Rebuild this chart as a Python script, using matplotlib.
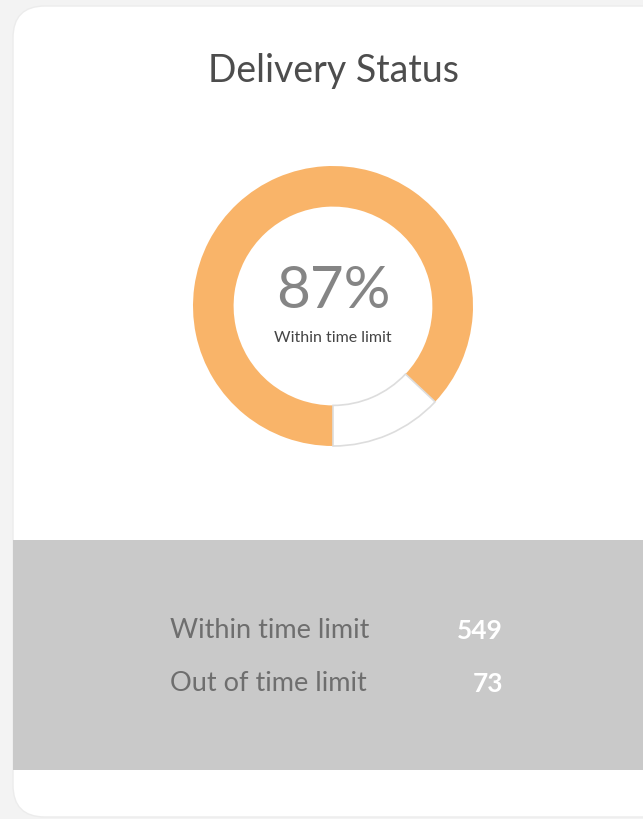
import matplotlib.pyplot as plt
from matplotlib.patches import FancyBboxPatch, Rectangle

plt.rcParams['font.family'] = ['Lato', 'DejaVu Sans']

title = "Delivery Status"
categories = ["Within time limit", "Out of time limit"]
counts = [549, 73]
shares = [87, 13]  # percent shown on the ring
center_label = "87%"

ring_colors = ["#f9b469", "#ffffff"]

fig = plt.figure(figsize=(6.43, 8.2), dpi=100, facecolor="#f3f3f3")

# background layer in pixel coords
bg = fig.add_axes([0, 0, 1, 1])
bg.set_xlim(0, 643)
bg.set_ylim(820, 0)
bg.axis("off")

card = FancyBboxPatch((13, 7), 720, 811, boxstyle="round,pad=0,rounding_size=32",
                      facecolor="white", edgecolor="#ececec", linewidth=1)
bg.add_patch(card)
bg.add_patch(Rectangle((13, 541), 640, 230, facecolor="#c9c9c9", edgecolor="none"))

bg.text(333, 71, title, ha="center", va="center", fontsize=27, color="#4d4d4d")

# legend rows in the gray band
row_y = [631, 684]
for lab, n, y in zip(categories, counts, row_y):
    bg.text(170, y, lab, ha="left", va="center", fontsize=19.5, color="#6e6e6e")
    bg.text(503, y, str(n), ha="right", va="center", fontsize=19,
            color="white", fontweight="bold")

# donut
cx, cy, r = 333, 307, 140
half = 150
ax = fig.add_axes([(cx - half) / 643, (820 - cy - half) / 820, 2 * half / 643, 2 * half / 820])
wedges, _ = ax.pie(shares, colors=ring_colors, startangle=-90, counterclock=False,
                   radius=1, wedgeprops=dict(width=0.29, linewidth=0))
wedges[1].set_edgecolor("#dddddd")
wedges[1].set_linewidth(1.2)
lim = half / r
ax.set_xlim(-lim, lim)
ax.set_ylim(-lim, lim)
ax.set_aspect("equal")
ax.axis("off")

ax.text(0, -0.01, center_label, ha="center", va="baseline", fontsize=42, color="#858585")
ax.text(0, -0.22, categories[0], ha="center", va="center", fontsize=11.5, color="#444444")

plt.savefig("out.png", dpi=100, facecolor=fig.get_facecolor())
